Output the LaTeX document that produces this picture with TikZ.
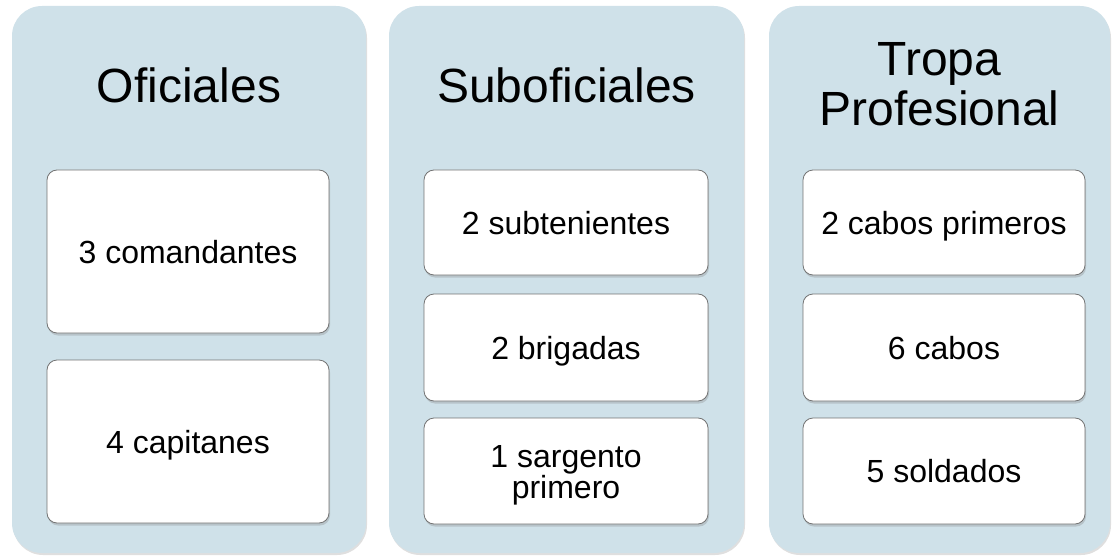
\documentclass[tikz,border=0pt]{standalone}
\usepackage{fontspec}
\setmainfont{Liberation Sans}
\usetikzlibrary{shadows}
\definecolor{panelblue}{HTML}{CFE1E9}
\tikzstyle{panel}=[rectangle,rounded corners=30pt,fill=panelblue,inner sep=0pt,drop shadow={shadow xshift=1pt,shadow yshift=-2pt,opacity=0.25}]
\tikzstyle{item}=[rectangle,rounded corners=10pt,draw=black!55,line width=0.8pt,fill=white,inner sep=0pt,align=center,font=\fontsize{32}{31}\selectfont,text height=23pt,text depth=0pt,drop shadow={shadow xshift=1pt,shadow yshift=-2.5pt,opacity=0.3}]
\tikzstyle{title}=[align=center,font=\fontsize{48}{50}\selectfont]

\begin{document}
\begin{tikzpicture}[x=1pt,y=-1pt]

    \useasboundingbox (0,0) rectangle (1115,556);

    % columns
    \foreach \x/\w/\name in {189/354/ofi, 566.5/355/sub, 939.5/341/tro}
        \node[panel, minimum width=\w pt, minimum height=547pt] (\name) at (\x, 279.5) {};

    \node[title] (ofit) at (189, 85) {Oficiales};
    \node[title] (subt) at (566.5, 85) {Suboficiales};
    \node[title] (trot) at (939.5, 84) {Tropa\\Profesional};

    % Oficiales
    \foreach \y/\name/\txt in {251.5/com/{3 comandantes}, 441.5/cap/{4 capitanes}}
        \node[item, minimum width=282pt, minimum height=163pt] (\name) at (188, \y) {\txt};

    % Suboficiales
    \foreach \y/\h/\th/\name/\txt in {222.5/105/23/subte/{2 subtenientes}, 347.5/107/23/briga/{2 brigadas}, 471/106/54/sarg/{1 sargento\\primero}}
        \node[item, minimum width=284pt, minimum height=\h pt, text height=\th pt] (\name) at (566, \y) {\txt};

    % Tropa Profesional
    \foreach \y/\h/\name/\txt in {222.5/105/cabp/{2 cabos primeros}, 347.5/107/cab/{6 cabos}, 471/106/sold/{5 soldados}}
        \node[item, minimum width=282pt, minimum height=\h pt] (\name) at (944, \y) {\txt};

\end{tikzpicture}
\end{document}
